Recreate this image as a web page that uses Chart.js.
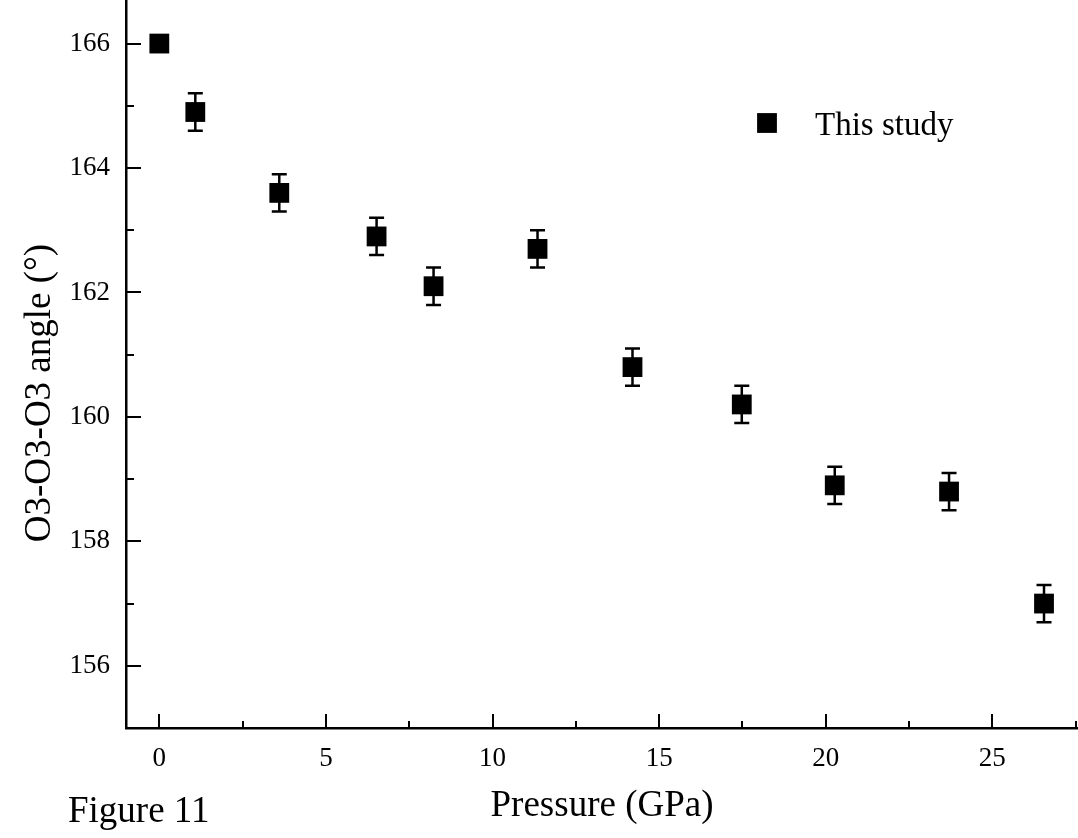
<!DOCTYPE html>
<html>
<head>
<meta charset="utf-8">
<script src="https://cdn.jsdelivr.net/npm/chart.js@4/dist/chart.umd.min.js"></script>
<style>
  html, body { margin: 0; padding: 0; background: #fff; }
  canvas { display: block; }
</style>
</head>
<body>
<canvas id="c" width="1078" height="838"></canvas>
<script>
// ---- data ----
const pressure = [0, 1.08, 3.6, 6.52, 8.23, 11.35, 14.2, 17.48, 20.27, 23.7, 26.55];
const angle    = [166.0, 164.9, 163.6, 162.9, 162.1, 162.7, 160.8, 160.2, 158.9, 158.8, 157.0];
const angleErr = [0, 0.3, 0.3, 0.3, 0.3, 0.3, 0.3, 0.3, 0.3, 0.3, 0.3];
const seriesLabel = 'This study';
const xMajorTicks = [0, 5, 10, 15, 20, 25];
const xMinorTicks = [2.5, 7.5, 12.5, 17.5, 22.5, 27.5];
const yMajorTicks = [156, 158, 160, 162, 164, 166];
const yMinorTicks = [155, 157, 159, 161, 163, 165];
const xTitle = 'Pressure (GPa)';
const yTitle = 'O3-O3-O3 angle (°)';
const figureLabel = 'Figure 11';

const FONT = '"Liberation Serif", "Times New Roman", serif';
const POINT_R = 14;

const errorBarPlugin = {
  id: 'errorBars',
  beforeDatasetsDraw(chart) {
    const {ctx, scales: {x, y}} = chart;
    ctx.save();
    ctx.strokeStyle = '#000';
    ctx.lineWidth = 2.5;
    const cap = 7.5;
    pressure.forEach((p, i) => {
      const e = angleErr[i];
      if (!e) return;
      const px = x.getPixelForValue(p);
      const yt = y.getPixelForValue(angle[i] + e);
      const yb = y.getPixelForValue(angle[i] - e);
      ctx.beginPath();
      ctx.moveTo(px, yt); ctx.lineTo(px, yb);
      ctx.moveTo(px - cap, yt); ctx.lineTo(px + cap, yt);
      ctx.moveTo(px - cap, yb); ctx.lineTo(px + cap, yb);
      ctx.stroke();
    });
    ctx.restore();
  }
};

const decorPlugin = {
  id: 'decor',
  afterDraw(chart) {
    const {ctx, chartArea: ca, scales: {x, y}} = chart;
    ctx.save();
    ctx.strokeStyle = '#000';
    ctx.lineWidth = 2;
    // inward ticks
    const tick = (vals, len, axis) => {
      vals.forEach(v => {
        ctx.beginPath();
        if (axis === 'x') {
          const px = Math.round(x.getPixelForValue(v));
          ctx.moveTo(px, ca.bottom); ctx.lineTo(px, ca.bottom - len);
        } else {
          const py = Math.round(y.getPixelForValue(v));
          ctx.moveTo(ca.left, py); ctx.lineTo(ca.left + len, py);
        }
        ctx.stroke();
      });
    };
    tick(xMajorTicks, 14, 'x');
    tick(xMinorTicks, 7, 'x');
    tick(yMajorTicks, 15, 'y');
    tick(yMinorTicks, 8, 'y');

    ctx.fillStyle = '#000';
    // y title
    ctx.save();
    ctx.translate(50, 393);
    ctx.rotate(-Math.PI / 2);
    ctx.font = '37px ' + FONT;
    ctx.textAlign = 'center';
    ctx.textBaseline = 'alphabetic';
    ctx.fillText(yTitle, 0, 0);
    ctx.restore();

    // legend
    const s = POINT_R * Math.SQRT1_2;
    ctx.fillRect(767 - s, 123 - s, 2 * s, 2 * s);
    ctx.font = '33px ' + FONT;
    ctx.textAlign = 'left';
    ctx.textBaseline = 'alphabetic';
    ctx.fillText(seriesLabel, 815, 135);

    // figure label
    ctx.font = '37px ' + FONT;
    ctx.fillText(figureLabel, 68, 822);
    ctx.restore();
  }
};

new Chart(document.getElementById('c'), {
  type: 'scatter',
  data: {
    datasets: [{
      label: seriesLabel,
      data: pressure.map((p, i) => ({x: p, y: angle[i]})),
      pointStyle: 'rect',
      pointRadius: POINT_R,
      pointHoverRadius: POINT_R,
      backgroundColor: '#000',
      borderColor: '#000',
      borderWidth: 0
    }]
  },
  options: {
    responsive: false,
    animation: false,
    layout: { padding: 0, autoPadding: false },
    plugins: {
      legend: { display: false },
      tooltip: { enabled: false }
    },
    scales: {
      x: {
        type: 'linear',
        min: -1,
        max: 27.57,
        afterBuildTicks: s => { s.ticks = xMajorTicks.map(v => ({value: v})); },
        afterFit: s => { s.height = 110; s.paddingLeft = 0; s.paddingRight = 0; },
        grid: { display: false, drawTicks: false },
        border: { display: true, color: '#000', width: 2.5 },
        ticks: { color: '#000', font: { family: FONT, size: 27 }, padding: 15, maxRotation: 0 },
        title: { display: true, text: xTitle, color: '#000', font: { family: FONT, size: 37 }, padding: { top: 0, bottom: 10 } }
      },
      y: {
        type: 'linear',
        min: 155,
        max: 166.7,
        afterBuildTicks: s => { s.ticks = yMajorTicks.map(v => ({value: v})); },
        afterFit: s => { s.width = 126; s.paddingTop = 0; s.paddingBottom = 0; },
        grid: { display: false, drawTicks: false },
        border: { display: true, color: '#000', width: 2.5 },
        ticks: { color: '#000', font: { family: FONT, size: 27 }, padding: 16 }
      }
    }
  },
  plugins: [errorBarPlugin, decorPlugin]
});
</script>
</body>
</html>
